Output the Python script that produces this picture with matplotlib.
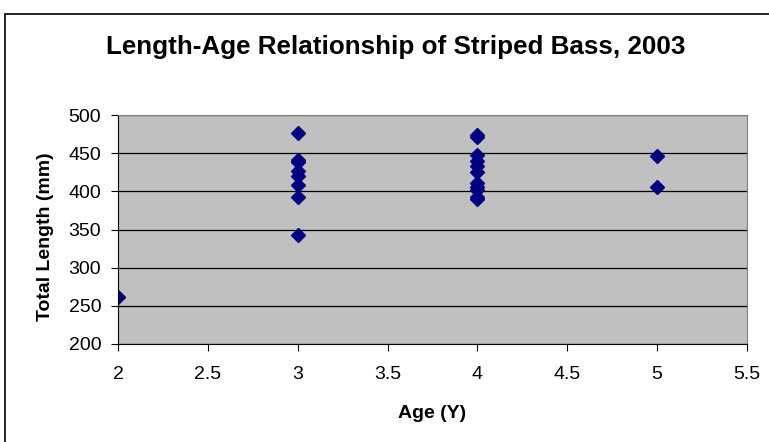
import matplotlib.pyplot as plt
from matplotlib.patches import Rectangle

plt.rcParams['font.family'] = ['Liberation Sans', 'DejaVu Sans']

# Age (years) and total length (mm) of each fish
age = [2,
       3, 3, 3, 3, 3, 3, 3, 3,
       4, 4, 4, 4, 4, 4, 4, 4, 4, 4, 4,
       5, 5]
length = [262,
          476, 441, 438, 427, 420, 408, 393, 343,
          474, 471, 448, 440, 433, 425, 411, 406, 402, 392, 390,
          446, 406]

x_ticks = [2, 2.5, 3, 3.5, 4, 4.5, 5, 5.5]
y_ticks = [200, 250, 300, 350, 400, 450, 500]

fig = plt.figure(figsize=(7.69, 4.42), dpi=100)
fig.patches.append(Rectangle((5 / 769, -0.01), 1.0, 1 - 14 / 442 + 0.01,
                             transform=fig.transFigure, fill=False,
                             edgecolor='black', linewidth=1.2))

ax = fig.add_axes([118 / 769, 1 - 344 / 442, 629 / 769, 229 / 442])
ax.set_facecolor('#C0C0C0')
ax.plot(age, length, linestyle='none', marker='D', markersize=7.5,
        color='#000080')

ax.set_xlim(2, 5.5)
ax.set_ylim(200, 500)
ax.set_xticks(x_ticks)
ax.set_xticklabels([f'{v:g}' for v in x_ticks])
ax.set_yticks(y_ticks)
ax.yaxis.grid(True, color='black', linewidth=0.9)
ax.set_axisbelow(True)
for side in ['top', 'right']:
    ax.spines[side].set_color('#808080')
for side in ['left', 'bottom']:
    ax.spines[side].set_color('black')
ax.tick_params(direction='out', length=5, labelsize=14)
ax.tick_params(axis='x', pad=11)
ax.tick_params(axis='y', pad=7)

ax.set_xlabel('Age (Y)', fontsize=14, fontweight='bold', va='center')
ax.set_ylabel('Total Length (mm)', fontsize=14, fontweight='bold', va='center')
ax.xaxis.set_label_coords(0.5, -(414 - 344) / 229)
ax.yaxis.set_label_coords(-(118 - 46) / 629, (344 - 237) / 229)
fig.text(396 / 769, 1 - 47 / 442, 'Length-Age Relationship of Striped Bass, 2003',
         ha='center', va='center', fontsize=18.7, fontweight='bold')

fig.savefig('out.png', dpi=100)
